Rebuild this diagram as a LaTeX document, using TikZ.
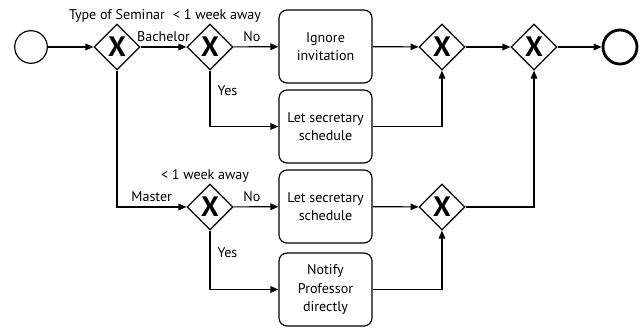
\documentclass[tikz,border=0pt]{standalone}
\usepackage{fontspec}
\setmainfont{PT Sans}
\usetikzlibrary{arrows.meta, positioning, shapes.geometric}

\begin{document}
\begin{tikzpicture}[
    x=0.03cm, y=-0.03cm,
    every node/.style={font=\fontsize{12}{14}\selectfont},
    lab/.style={inner sep=1pt},
    gw/.style={diamond, draw, line width=1pt, fill=white, inner sep=0pt,
               minimum width=1.38cm, minimum height=1.38cm,
               font=\fontsize{24}{24}\selectfont\bfseries},
    task/.style={rectangle, rounded corners=0.24cm, draw, line width=1pt,
                 minimum width=2.79cm, minimum height=2.19cm, align=center,
                 font=\fontsize{12}{15.5}\selectfont},
    startev/.style={circle, draw, line width=1pt, minimum size=0.98cm, inner sep=0pt},
    endev/.style={circle, draw, line width=2.4pt, minimum size=1.02cm, inner sep=0pt},
    arr/.style={-{Triangle[length=0.24cm, width=0.2cm]}, line width=1pt},
]
\useasboundingbox (0,0) rectangle (643,329);

% ---------------------------------------------------------------- upper row
\node[startev] (start) at (31, 47) {};
\node[gw] (g1) at (117, 47) {X};
\node[gw] (g2) at (210, 47) {X};
\node[task] (t1) at (325.5, 46.5) {Ignore\\ invitation};
\node[task] (t2) at (325.5, 126.5) {Let secretary\\ schedule};
\node[gw] (g3) at (442, 47) {X};
\node[gw] (g4) at (534, 47) {X};
\node[endev] (end) at (620, 47) {};

\node[lab, above=0pt of g1] (g1lab) {Type of Seminar};
\node[lab, above=0pt of g2, xshift=0.21cm] (g2lab) {< 1 week away};

% ---------------------------------------------------------------- lower row
\node[gw] (g5) at (210, 207) {X};
\node[task] (t3) at (325.5, 206.5) {Let secretary\\ schedule};
\node[task] (t4) at (325.5, 289.5) {Notify\\ Professor\\ directly};
\node[gw] (g6) at (442, 207) {X};

\node[lab, above=0pt of g5, xshift=-0.15cm] (g5lab) {< 1 week away};

% ---------------------------------------------------------------- flows
\draw[arr] (start) -- (g1);
\draw[arr] (g1) -- node[lab, above=3pt] (bach) {Bachelor} (g2);
\draw[arr] (g2) -- node[lab, above=3pt, xshift=-0.12cm] (no1) {No} (t1);
\draw[arr] (g2.south) |- node[lab, pos=0.18, right=5pt] (yes1) {Yes} (t2);
\draw[arr] (t1) -- (g3);
\draw[arr] (t2) -| (g3.south);
\draw[arr] (g3) -- (g4);
\draw[arr] (g4) -- (end);

\draw[arr] (g1.south) |- node[lab, pos=0.75, above=3pt] (mast) {Master} (g5);
\draw[arr] (g5) -- node[lab, above=3pt, xshift=-0.12cm] (no2) {No} (t3);
\draw[arr] (g5.south) |- node[lab, pos=0.19, right=5pt] (yes2) {Yes} (t4);
\draw[arr] (t3) -- (g6);
\draw[arr] (t4) -| (g6.south);
\draw[arr] (g6) -| (g4.south);

\end{tikzpicture}
\end{document}
